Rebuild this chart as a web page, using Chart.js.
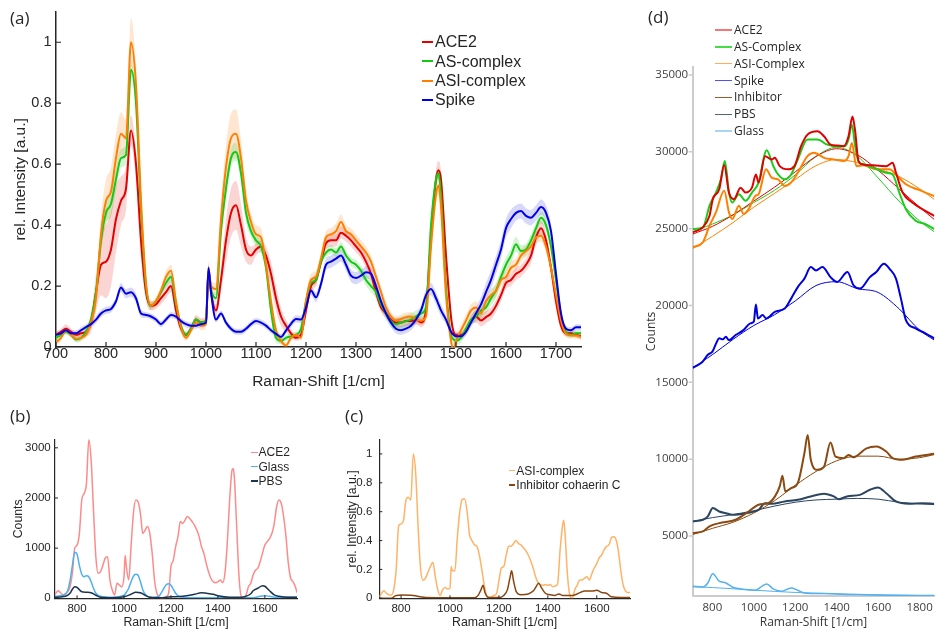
<!DOCTYPE html>
<html><head><meta charset="utf-8">
<script src="https://cdn.jsdelivr.net/npm/chart.js@4.4.1/dist/chart.umd.min.js"></script>
<style>
html,body{margin:0;padding:0;background:#fff;}
body{width:939px;height:632px;position:relative;overflow:hidden;}
canvas{position:absolute;}
.lab{position:absolute;font-family:'Open Sans',sans-serif;font-size:17px;color:#262626;line-height:20px;}
.lg{position:absolute;white-space:nowrap;color:#262626;}
.lgl{position:absolute;}
</style></head><body>
<canvas id="ca" width="600" height="400" style="left:0;top:0"></canvas>
<canvas id="cb" width="320" height="227" style="left:0;top:405px"></canvas>
<canvas id="cc" width="320" height="227" style="left:320px;top:405px"></canvas>
<canvas id="cd" width="299" height="632" style="left:640px;top:0"></canvas>
<div class="lab" style="left:10px;top:8px">(a)</div>
<div class="lab" style="left:10px;top:406px">(b)</div>
<div class="lab" style="left:345px;top:406px">(c)</div>
<div class="lab" style="left:648px;top:7px">(d)</div>
<script>
// ---------- Panel (a): mean spectra ----------
const xA = [700,710,720,730,740,750,760,770,780,790,
800,810,820,830,840,850,860,870,880,890,
900,910,920,930,940,950,960,970,980,990,
1000,1005,1010,1020,1030,1040,1050,1060,1070,1080,
1090,1100,1110,1120,1130,1140,1150,1160,1170,1180,
1190,1200,1210,1220,1230,1240,1250,1260,1270,1280,
1290,1300,1310,1320,1330,1340,1350,1360,1370,1380,
1390,1400,1410,1420,1430,1440,1450,1460,1465,1470,
1480,1490,1495,1500,1510,1520,1530,1540,1550,1560,
1570,1580,1590,1600,1610,1620,1630,1640,1650,1660,
1670,1680,1690,1700,1710,1720,1730,1740,1750];
const ace2A = [0.04,0.05,0.06,0.05,0.04,0.045,0.05,0.08,0.18,0.27,
0.28,0.32,0.42,0.48,0.52,0.71,0.60,0.35,0.18,0.135,
0.14,0.16,0.18,0.20,0.12,0.06,0.04,0.06,0.09,0.08,
0.085,0.25,0.18,0.12,0.22,0.35,0.44,0.465,0.40,0.32,
0.30,0.32,0.33,0.30,0.24,0.16,0.10,0.07,0.045,0.03,
0.04,0.12,0.20,0.22,0.28,0.34,0.35,0.35,0.375,0.365,
0.35,0.33,0.31,0.28,0.24,0.18,0.13,0.11,0.09,0.08,
0.08,0.085,0.085,0.09,0.08,0.12,0.36,0.55,0.58,0.55,
0.30,0.10,0.05,0.04,0.04,0.054,0.087,0.10,0.087,0.098,
0.11,0.135,0.17,0.21,0.22,0.24,0.25,0.27,0.30,0.36,
0.39,0.35,0.26,0.15,0.07,0.045,0.045,0.04,0.035];
const asA = [0.03,0.04,0.05,0.04,0.025,0.03,0.05,0.09,0.18,0.35,
0.44,0.47,0.55,0.62,0.63,0.91,0.80,0.45,0.20,0.135,
0.15,0.18,0.21,0.23,0.14,0.07,0.04,0.06,0.09,0.08,
0.085,0.25,0.19,0.16,0.38,0.52,0.62,0.64,0.57,0.44,
0.38,0.35,0.33,0.26,0.12,0.03,0.02,0.03,0.035,0.04,
0.06,0.15,0.21,0.22,0.28,0.31,0.32,0.31,0.33,0.30,
0.28,0.27,0.25,0.22,0.20,0.18,0.14,0.11,0.085,0.075,
0.08,0.085,0.09,0.10,0.11,0.13,0.40,0.55,0.57,0.50,
0.20,0.04,0.025,0.02,0.03,0.06,0.09,0.10,0.12,0.13,
0.16,0.185,0.23,0.27,0.30,0.337,0.315,0.32,0.35,0.39,
0.424,0.40,0.33,0.22,0.10,0.05,0.04,0.045,0.045];
const asiA = [0.015,0.03,0.055,0.04,0.027,0.03,0.04,0.08,0.16,0.37,
0.48,0.51,0.62,0.70,0.685,1.0,0.86,0.48,0.21,0.136,
0.15,0.185,0.23,0.25,0.15,0.065,0.03,0.054,0.08,0.07,
0.075,0.26,0.20,0.19,0.42,0.59,0.685,0.70,0.62,0.48,
0.41,0.37,0.36,0.27,0.15,0.054,0.02,0.005,0.03,0.04,
0.03,0.15,0.22,0.23,0.29,0.36,0.37,0.38,0.41,0.38,
0.37,0.35,0.33,0.31,0.28,0.23,0.18,0.13,0.10,0.087,
0.092,0.098,0.10,0.09,0.087,0.10,0.33,0.50,0.53,0.46,
0.17,0.02,-0.01,0.02,0.054,0.087,0.12,0.13,0.11,0.15,
0.17,0.185,0.22,0.23,0.26,0.27,0.30,0.315,0.33,0.36,
0.365,0.33,0.26,0.17,0.087,0.043,0.038,0.038,0.033];
const spikeA = [0.04,0.045,0.055,0.045,0.045,0.055,0.065,0.075,0.09,0.11,
0.12,0.125,0.15,0.195,0.175,0.18,0.16,0.11,0.105,0.10,
0.09,0.075,0.09,0.105,0.10,0.085,0.075,0.07,0.07,0.075,
0.08,0.26,0.18,0.09,0.11,0.08,0.06,0.05,0.05,0.06,
0.075,0.085,0.08,0.07,0.055,0.043,0.033,0.054,0.076,0.092,
0.09,0.13,0.185,0.163,0.207,0.27,0.28,0.29,0.30,0.27,
0.234,0.226,0.234,0.245,0.24,0.20,0.15,0.11,0.08,0.06,
0.055,0.06,0.07,0.09,0.12,0.17,0.19,0.16,0.14,0.12,
0.09,0.05,0.04,0.035,0.035,0.05,0.08,0.11,0.14,0.18,
0.22,0.27,0.32,0.39,0.42,0.44,0.446,0.43,0.424,0.44,
0.459,0.44,0.38,0.24,0.11,0.06,0.055,0.065,0.065];
const sdAce2A = [0.01,0.01,0.015,0.01,0.01,0.01,0.015,0.03,0.06,0.1,
0.12,0.12,0.11,0.08,0.07,0.05,0.05,0.06,0.03,0.015,
0.015,0.02,0.02,0.02,0.02,0.015,0.01,0.01,0.015,0.015,
0.015,0.02,0.02,0.02,0.04,0.07,0.08,0.08,0.07,0.04,
0.03,0.02,0.02,0.03,0.04,0.04,0.03,0.02,0.015,0.01,
0.01,0.02,0.02,0.02,0.02,0.02,0.02,0.02,0.02,0.02,
0.02,0.02,0.02,0.02,0.02,0.02,0.015,0.015,0.015,0.015,
0.015,0.015,0.015,0.015,0.015,0.02,0.03,0.03,0.03,0.03,
0.03,0.02,0.015,0.01,0.01,0.015,0.015,0.02,0.02,0.02,
0.02,0.02,0.02,0.02,0.02,0.02,0.02,0.02,0.025,0.025,
0.025,0.025,0.02,0.02,0.015,0.01,0.01,0.01,0.01];
const sdAsA = [0.01,0.01,0.01,0.01,0.01,0.01,0.01,0.02,0.03,0.04,
0.04,0.04,0.04,0.03,0.03,0.02,0.03,0.03,0.02,0.01,
0.01,0.01,0.015,0.015,0.015,0.01,0.01,0.01,0.01,0.01,
0.01,0.015,0.015,0.015,0.03,0.03,0.03,0.03,0.03,0.03,
0.02,0.02,0.02,0.02,0.02,0.015,0.01,0.01,0.01,0.01,
0.01,0.015,0.015,0.015,0.015,0.015,0.015,0.015,0.015,0.015,
0.015,0.015,0.015,0.02,0.02,0.02,0.02,0.02,0.02,0.02,
0.02,0.02,0.02,0.02,0.02,0.02,0.02,0.02,0.02,0.02,
0.02,0.015,0.015,0.015,0.015,0.015,0.015,0.02,0.02,0.02,
0.025,0.025,0.025,0.025,0.025,0.025,0.02,0.02,0.02,0.02,
0.02,0.02,0.02,0.02,0.015,0.01,0.01,0.01,0.01];
const sdAsiA = [0.01,0.01,0.01,0.01,0.01,0.01,0.01,0.02,0.04,0.06,
0.07,0.08,0.08,0.07,0.06,0.08,0.06,0.04,0.02,0.015,
0.015,0.015,0.02,0.02,0.015,0.015,0.01,0.01,0.01,0.015,
0.015,0.02,0.02,0.02,0.05,0.07,0.08,0.08,0.06,0.04,
0.03,0.03,0.03,0.025,0.02,0.02,0.01,0.01,0.01,0.01,
0.01,0.02,0.02,0.02,0.02,0.02,0.02,0.025,0.025,0.02,
0.02,0.02,0.02,0.02,0.02,0.02,0.02,0.02,0.015,0.015,
0.015,0.015,0.015,0.015,0.015,0.02,0.03,0.03,0.03,0.03,
0.02,0.015,0.015,0.015,0.02,0.02,0.02,0.02,0.02,0.02,
0.02,0.02,0.02,0.02,0.02,0.02,0.02,0.02,0.02,0.02,
0.02,0.02,0.02,0.015,0.015,0.01,0.01,0.01,0.01];
const sdSpikeA = [0.01,0.01,0.01,0.01,0.01,0.01,0.01,0.012,0.012,0.012,
0.012,0.012,0.012,0.015,0.015,0.015,0.015,0.012,0.01,0.01,
0.01,0.01,0.01,0.01,0.01,0.01,0.01,0.01,0.01,0.01,
0.01,0.01,0.01,0.01,0.01,0.01,0.01,0.01,0.01,0.01,
0.01,0.01,0.01,0.01,0.01,0.01,0.01,0.01,0.012,0.012,
0.012,0.015,0.015,0.015,0.015,0.02,0.02,0.02,0.02,0.02,
0.02,0.02,0.02,0.02,0.02,0.015,0.015,0.015,0.015,0.015,
0.015,0.015,0.015,0.015,0.015,0.02,0.02,0.02,0.02,0.02,
0.015,0.01,0.01,0.01,0.01,0.012,0.015,0.02,0.025,0.03,
0.03,0.03,0.03,0.03,0.03,0.025,0.025,0.025,0.025,0.025,
0.025,0.025,0.025,0.02,0.015,0.01,0.01,0.01,0.01];
const legendA = ['ACE2','AS-complex','ASI-complex','Spike'];
const xTicksA = [700,800,900,1000,1100,1200,1300,1400,1500,1600,1700];
const yTicksA = [0,0.2,0.4,0.6,0.8,1];

// ---------- Panel (b): raw counts ----------
const bAce2X = [706,720,740,760,770,780,790,800,810,820,830,840,850,860,870,880,890,900,910,920,930,940,950,960,970,980,990,1000,1005,1010,1020,1030,1040,1050,1060,1070,1080,1090,1100,1110,1120,1130,1140,1150,1160,1170,1180,1190,1200,1210,1220,1230,1240,1250,1260,1270,1280,1290,1300,1310,1320,1330,1340,1350,1360,1370,1380,1390,1400,1410,1420,1430,1440,1450,1460,1465,1470,1480,1490,1500,1510,1520,1530,1540,1550,1560,1570,1580,1590,1600,1610,1620,1630,1640,1650,1660,1670,1680,1690,1700,1710,1720,1730,1737];
const bAce2Y = [80,150,66,130,230,500,1000,1060,1300,1960,2090,2290,3160,2750,1760,830,500,530,660,800,830,365,166,66,300,265,230,430,860,630,365,1030,1690,1960,1925,1690,1290,1360,1430,1290,900,365,100,33,0,10,30,100,630,760,1030,1230,1530,1490,1560,1630,1590,1530,1460,1360,1230,1030,900,700,530,400,330,310,330,365,310,500,1100,1960,2550,2590,2420,1430,430,33,20,66,230,300,465,560,600,730,900,1060,1130,1190,1290,1490,1820,1960,1890,1630,1230,700,400,330,230,110];
const bGlassX = [706,740,760,770,780,790,800,810,820,830,840,850,860,870,880,890,900,950,1000,1010,1020,1030,1040,1050,1060,1070,1080,1090,1100,1110,1120,1150,1160,1170,1180,1190,1200,1210,1220,1230,1250,1300,1400,1500,1550,1580,1600,1620,1650,1700,1737];
const bGlassY = [40,60,150,350,650,920,880,650,480,430,450,430,330,200,100,60,40,20,60,120,200,330,440,480,460,330,170,80,40,20,10,50,120,200,270,290,260,180,100,50,20,10,10,10,10,40,50,40,20,20,20];
const bPbsX = [706,750,770,780,790,800,810,820,840,860,880,900,950,1000,1030,1050,1070,1090,1110,1150,1200,1250,1300,1330,1350,1380,1400,1450,1500,1520,1540,1550,1570,1590,1600,1620,1640,1660,1700,1737];
const bPbsY = [20,40,100,180,230,220,170,130,120,110,60,20,10,30,80,120,110,60,20,10,30,40,80,110,100,80,50,20,20,40,90,150,200,250,240,150,70,40,20,20];
const legendB = ['ACE2','Glass','PBS'];
const xTicksB = [800,1000,1200,1400,1600];
const yTicksB = [0,1000,2000,3000];

// ---------- Panel (c): ASI-complex vs inhibitor ----------
const cAsiX = [712,720,730,740,750,760,770,780,790,
800,810,820,830,840,850,860,870,880,890,
900,910,920,930,940,950,960,970,980,990,
1000,1005,1010,1020,1030,1040,1050,1060,1070,1080,
1090,1100,1110,1120,1130,1140,1150,1160,1170,1180,
1190,1200,1210,1220,1230,1240,1250,1260,1270,1280,
1290,1300,1310,1320,1330,1340,1350,1360,1370,1380,
1390,1400,1410,1420,1430,1440,1450,1460,1465,1470,
1480,1490,1500,1510,1520,1530,1540,1550,1560,
1570,1580,1590,1600,1610,1620,1630,1640,1650,1660,
1670,1680,1690,1700,1710,1720,1730,1736];
const cAsiY = [0.01,0.035,0.053,0.035,0.025,0.023,0.06,0.2,0.5,
0.515,0.54,0.68,0.70,0.68,1.0,0.86,0.48,0.2,0.125,
0.14,0.18,0.22,0.25,0.15,0.06,0.02,0.06,0.075,0.065,
0.07,0.22,0.19,0.19,0.42,0.6,0.685,0.69,0.6,0.44,
0.4,0.37,0.36,0.3,0.2,0.09,0.02,0.005,0.01,0.02,
0.03,0.12,0.21,0.22,0.3,0.36,0.36,0.38,0.4,0.38,
0.37,0.35,0.33,0.3,0.26,0.21,0.15,0.11,0.095,0.09,
0.095,0.09,0.095,0.08,0.085,0.1,0.33,0.5,0.54,0.46,
0.17,0.02,0.0,0.058,0.09,0.127,0.127,0.139,0.15,
0.127,0.17,0.21,0.24,0.28,0.30,0.335,0.36,0.37,0.42,
0.427,0.40,0.31,0.17,0.08,0.046,0.04,0.04];
const cInhX = [710,760,780,800,850,880,900,1000,1100,1115,1127,1135,1143,1155,1200,1220,1235,1245,1252,1260,1270,1290,1320,1340,1352,1362,1375,1390,1410,1430,1445,1460,1500,1520,1550,1580,1600,1620,1640,1660,1700,1736];
const cInhY = [0,0,0.02,0.022,0.02,0.01,0.005,0.003,0.003,0.02,0.06,0.09,0.04,0.008,0.005,0.02,0.06,0.14,0.19,0.12,0.05,0.025,0.03,0.05,0.08,0.105,0.07,0.035,0.025,0.02,0.03,0.02,0.02,0.03,0.05,0.05,0.055,0.04,0.035,0.01,0.005,0.005];
const legendC = ['ASI-complex','Inhibitor cohaerin C'];
const xTicksC = [800,1000,1200,1400,1600];
const yTicksC = [0,0.2,0.4,0.6,0.8,1];

// ---------- Panel (d): raw spectra with baselines ----------
const dAce2X = [705,754,786,802,833,857,880,904,936,960,991,1010,1023,1054,1086,1101,1125,1165,1196,1228,1259,1307,1339,1370,1402,1434,1457,1476,1489,1505,1528,1576,1639,1670,1686,1718,1765,1813,1871];
const dAce2Y = [24760,25090,25840,26920,27570,29150,27350,26920,27670,27350,27670,28530,28000,29720,29500,29610,29070,28860,29070,30370,31120,31340,31010,30470,30410,30370,31010,32300,31340,29400,29180,29120,29070,29290,28640,27350,26700,26270,25840];
const dAsX = [705,754,786,817,841,860,880,896,928,960,991,1023,1062,1094,1117,1149,1180,1212,1259,1307,1354,1402,1441,1457,1473,1489,1505,1528,1576,1639,1670,1702,1734,1781,1828,1871];
const dAsY = [24980,25090,26490,27350,28210,29400,27350,26700,27240,26810,27350,28000,30110,29070,28530,28210,28530,29500,30800,30800,30470,30370,30370,30800,31770,30370,29400,29180,28970,28640,28530,27350,26270,25520,25300,24980];
const dAsiX = [705,754,786,817,857,880,896,928,951,975,1007,1023,1059,1086,1117,1149,1180,1212,1259,1291,1339,1386,1434,1457,1473,1495,1528,1591,1655,1686,1734,1797,1828,1871];
const dAsiY = [23790,24120,25190,26060,27460,26060,25630,26490,25950,26270,27130,27240,28860,28320,28210,27780,28000,28640,29720,29940,29610,29500,29400,29720,30580,29070,29120,28860,28860,28530,27890,27520,27350,27130];
const dSpikeX = [705,720,750,778,800,820,833,850,865,880,912,950,983,1000,1010,1020,1042,1060,1101,1149,1180,1212,1244,1275,1300,1331,1370,1402,1452,1481,1512,1560,1591,1628,1655,1686,1710,1734,1781,1828,1871];
const dSpikeY = [15950,16050,16300,16800,17000,17600,17870,17800,17970,17750,18080,18400,18840,18950,20060,19150,19380,19160,19590,19800,20450,21200,21750,22500,22280,22500,21850,21530,22180,21320,21100,21850,22180,22720,22390,21750,20450,19050,18510,18190,17860];
const dInhX = [705,754,786,833,912,975,1023,1070,1102,1125,1138,1152,1180,1212,1244,1260,1275,1307,1339,1370,1394,1434,1457,1481,1544,1591,1639,1670,1718,1781,1871];
const dInhY = [5200,5300,5630,5840,6060,6600,7040,7140,7580,8230,8920,7900,8120,8440,10390,11580,9960,9310,9520,11080,10170,10070,10280,10130,10710,10820,10500,10070,9960,10170,10350];
const dPbsX = [705,754,778,802,833,865,896,960,1023,1054,1086,1149,1212,1275,1339,1386,1410,1449,1512,1560,1599,1639,1686,1749,1813,1871];
const dPbsY = [5950,6060,6280,6820,6600,6490,6390,6490,6710,7140,7100,7250,7360,7580,7750,7580,7400,7580,7680,8010,8160,7790,7250,7100,7140,7100];
const dGlassX = [705,754,778,802,833,865,896,960,1007,1039,1062,1094,1133,1180,1212,1244,1339,1497,1655,1871];
const dGlassY = [1730,1690,1950,2550,2060,1950,1690,1520,1470,1730,1880,1560,1410,1620,1470,1300,1260,1190,1150,1125];
const dBaseX = [705,800,900,1000,1100,1200,1300,1400,1500,1600,1700,1800,1871];
const dAce2Base = [24650,25150,25900,26800,27700,28700,29700,30200,29800,28800,27600,26400,25600];
const dAsBase = [24800,25300,25900,26700,27500,28500,29700,30300,29700,28300,26800,25500,24800];
const dAsiBase = [23700,24500,25400,26400,27300,28200,29100,29500,29300,28900,28400,27600,26900];
const dSpikeBase = [15950,16800,17800,18700,19400,20300,21300,21550,21100,20850,19800,18400,17750];
const dInhBase = [5100,5500,5900,6500,7300,8300,9200,9900,10200,10200,10000,10100,10300];
const dPbsBase = [5950,6200,6400,6650,6950,7200,7350,7400,7450,7400,7200,7100,7050];
const dGlassBase = [1700,1650,1570,1480,1400,1330,1280,1240,1200,1170,1150,1130,1120];
const legendD = ['ACE2','AS-Complex','ASI-Complex','Spike','Inhibitor','PBS','Glass'];
const xTicksD = [800,1000,1200,1400,1600,1800];
const yTicksD = [5000,10000,15000,20000,25000,30000,35000];

// ---------- helpers ----------
const FA = "'Liberation Sans', Arial, Helvetica, sans-serif";
const FD = "'Open Sans', 'DejaVu Sans', sans-serif";
const pts = (xs, ys) => xs.map((x, i) => ({x: x, y: ys[i]}));
const line = (label, xs, ys, color, w, order) => ({label, data: pts(xs, ys), borderColor: color, backgroundColor: color, borderWidth: w, pointRadius: 0, fill: false, order: order});
function band(label, mean, sd, color, order) {
  return [
    {label: label + ' +sd', data: pts(xA, mean.map((m, i) => m + sd[i])), borderColor: 'rgba(0,0,0,0)', borderWidth: 0, pointRadius: 0, fill: '+1', backgroundColor: color, order: order},
    {label: label + ' -sd', data: pts(xA, mean.map((m, i) => m - sd[i])), borderColor: 'rgba(0,0,0,0)', borderWidth: 0, pointRadius: 0, fill: false, order: order}
  ];
}
const tickMarks = {
  id: 'tickMarks',
  afterDatasetsDraw(chart) {
    const o = chart.config.options.plugins.tickMarks;
    if (!o) return;
    const ctx = chart.ctx, ca = chart.chartArea, xs = chart.scales.x, ys = chart.scales.y;
    ctx.save();
    ctx.strokeStyle = o.color; ctx.lineWidth = o.width;
    ctx.beginPath();
    if (o.x) xs.ticks.forEach(t => { const p = xs.getPixelForValue(t.value); ctx.moveTo(p, ca.bottom); ctx.lineTo(p, ca.bottom + o.x); });
    if (o.y) ys.ticks.forEach(t => { const p = ys.getPixelForValue(t.value); ctx.moveTo(ca.left, p); ctx.lineTo(ca.left + o.y, p); });
    ctx.stroke();
    ctx.restore();
  }
};
function axis(o, horiz) {
  return {
    type: 'linear', position: horiz ? 'bottom' : 'left', min: o.min, max: o.max,
    afterBuildTicks: s => { s.ticks = o.ticks.map(v => ({value: v})); },
    afterFit: s => { if (horiz) s.height = o.size; else s.width = o.size; },
    grid: {display: false, drawTicks: false},
    border: {display: true, color: o.axisColor, width: o.axisWidth},
    ticks: {color: o.tickColor, font: {family: o.font, size: o.tickSize, lineHeight: 1}, padding: o.tickPad, autoSkip: false, maxRotation: 0, minRotation: 0, callback: v => String(v)},
    title: {display: true, text: o.title, color: o.titleColor, font: {family: o.font, size: o.titleSize, lineHeight: 1}, padding: horiz ? {top: 0, bottom: o.titlePad} : {top: o.titlePad, bottom: 0}}
  };
}
function makeChart(id, datasets, o) {
  return new Chart(document.getElementById(id), {
    type: 'line',
    data: {datasets: datasets},
    options: {
      responsive: false, animation: false, devicePixelRatio: 1, events: [],
      layout: {padding: o.pad},
      plugins: {legend: {display: false}, tooltip: {enabled: false}, tickMarks: o.marks},
      elements: {point: {radius: 0}, line: {cubicInterpolationMode: 'monotone'}},
      scales: {x: axis(o.x, true), y: axis(o.y, false)}
    },
    plugins: [tickMarks]
  });
}
function legend(labels, colors, o) {
  labels.forEach((lab, i) => {
    const cy = o.y0 + i * o.dy;
    const l = document.createElement('div');
    l.className = 'lgl';
    l.style.cssText = 'left:' + o.lx1 + 'px;top:' + (cy - o.lw / 2) + 'px;width:' + (o.lx2 - o.lx1) + 'px;height:' + o.lw + 'px;background:' + colors[i];
    document.body.appendChild(l);
    const t = document.createElement('div');
    t.className = 'lg';
    const lh = Math.round(o.fs * 1.2);
    t.style.cssText = 'left:' + o.tx + 'px;top:' + (cy - lh / 2) + 'px;font-size:' + o.fs + 'px;line-height:' + lh + 'px;font-family:' + o.font;
    t.textContent = lab;
    document.body.appendChild(t);
  });
}

// ---------- panel (a) ----------
const colA = ['#e60000', '#14c814', '#ff8000', '#0000e6'];
const bandCol = ['rgba(235,60,60,0.22)', 'rgba(40,200,40,0.2)', 'rgba(255,140,40,0.22)', 'rgba(60,60,230,0.2)'];
const AX = {axisColor: '#262626', axisWidth: 1.5, tickColor: '#262626', titleColor: '#262626', font: FA, tickSize: 14.5, titleSize: 15.5};
makeChart('ca', [
  line(legendA[3], xA, spikeA, colA[3], 2, 0),
  line(legendA[2], xA, asiA, colA[2], 2, 1),
  line(legendA[1], xA, asA, colA[1], 2, 2),
  line(legendA[0], xA, ace2A, colA[0], 2, 3),
  ...band(legendA[0], ace2A, sdAce2A, bandCol[0], 10),
  ...band(legendA[1], asA, sdAsA, bandCol[1], 11),
  ...band(legendA[2], asiA, sdAsiA, bandCol[2], 12),
  ...band(legendA[3], spikeA, sdSpikeA, bandCol[3], 13)
], {
  pad: {top: 8.6, right: 19, bottom: 0, left: 0},
  marks: {x: -5, y: 5, color: '#262626', width: 1.2},
  x: Object.assign({}, AX, {min: 700, max: 1750, ticks: xTicksA, size: 53, tickPad: 0, title: 'Raman-Shift [1/cm]', titlePad: 10.7}),
  y: Object.assign({}, AX, {min: 0, max: 1.1, ticks: yTicksA, size: 56, tickPad: 4.5, title: 'rel. Intensity [a.u.]', titlePad: 13.2})
});
legend(legendA, colA, {y0: 41.7, dy: 19.4, lx1: 422, lx2: 433, lw: 2, tx: 435, fs: 16, font: FA});

// ---------- panel (b) ----------
const colB = ['#ff8a8a', '#4fb0f0', '#1b3550'];
const BX = {axisColor: '#262626', axisWidth: 1.2, tickColor: '#262626', titleColor: '#262626', font: FA, tickSize: 11.5, titleSize: 12.3};
makeChart('cb', [
  line(legendB[2], bPbsX, bPbsY, colB[2], 1.5, 0),
  line(legendB[1], bGlassX, bGlassY, colB[1], 1.5, 1),
  line(legendB[0], bAce2X, bAce2Y, colB[0], 1.5, 2)
], {
  pad: {top: 34.3, right: 23, bottom: 0, left: 0},
  marks: {x: -3, y: 3, color: '#262626', width: 1},
  x: Object.assign({}, BX, {min: 706, max: 1737, ticks: xTicksB, size: 33.7, tickPad: 5, title: 'Raman-Shift [1/cm]', titlePad: 2.85}),
  y: Object.assign({}, BX, {min: 0, max: 3170, ticks: yTicksB, size: 55, tickPad: 4.3, title: 'Counts', titlePad: 12.2})
});
legend(legendB, colB, {y0: 452.3, dy: 14.35, lx1: 251, lx2: 257.5, lw: 1.5, tx: 258.5, fs: 12, font: FA});

// ---------- panel (c) ----------
const colC = ['#ffb366', '#8b4510'];
makeChart('cc', [
  line(legendC[1], cInhX, cInhY, colC[1], 1.5, 0),
  line(legendC[0], cAsiX, cAsiY, colC[0], 1.5, 1)
], {
  pad: {top: 34.5, right: 10, bottom: 0, left: 0},
  marks: {x: -3, y: 3, color: '#262626', width: 1},
  x: Object.assign({}, BX, {min: 711, max: 1736, ticks: xTicksC, size: 33.7, tickPad: 5, title: 'Raman-Shift [1/cm]', titlePad: 2.85}),
  y: Object.assign({}, BX, {min: 0, max: 1.1, ticks: yTicksC, size: 59.3, tickPad: 7, title: 'rel. Intensity [a.u.]', titlePad: 26.9})
});
legend(legendC, colC, {y0: 470.7, dy: 14.3, lx1: 509.3, lx2: 515.3, lw: 1.5, tx: 516.3, fs: 12, font: FA});

// ---------- panel (d) ----------
const colD = ['#e00000', '#1ccc1c', '#ff8000', '#0000e0', '#8b4a12', '#2b4560', '#55b0f0'];
const colDLeg = ['#f07878', '#44dd44', '#ffae5e', '#5050ff', '#9a5a2a', '#52657a', '#a8d4f6'];
const DX = {axisColor: '#cccccc', axisWidth: 2, tickColor: '#404040', titleColor: '#333333', font: FD, tickSize: 11.5, titleSize: 12};
makeChart('cd', [
  line(legendD[0], dAce2X, dAce2Y, colD[0], 2, 0),
  line(legendD[1], dAsX, dAsY, colD[1], 2, 1),
  line(legendD[2], dAsiX, dAsiY, colD[2], 2, 2),
  line(legendD[3], dSpikeX, dSpikeY, colD[3], 2, 3),
  line(legendD[4], dInhX, dInhY, colD[4], 2, 4),
  line(legendD[5], dPbsX, dPbsY, colD[5], 2, 5),
  line(legendD[6], dGlassX, dGlassY, colD[6], 1.5, 6),
  line(legendD[0] + ' baseline', dBaseX, dAce2Base, colD[0], 1, 10),
  line(legendD[1] + ' baseline', dBaseX, dAsBase, colD[1], 1, 10),
  line(legendD[2] + ' baseline', dBaseX, dAsiBase, colD[2], 1, 10),
  line(legendD[3] + ' baseline', dBaseX, dSpikeBase, colD[3], 1, 10),
  line(legendD[4] + ' baseline', dBaseX, dInhBase, colD[4], 1, 10),
  line(legendD[5] + ' baseline', dBaseX, dPbsBase, colD[5], 1, 10),
  line(legendD[6] + ' baseline', dBaseX, dGlassBase, colD[6], 1, 10)
], {
  pad: {top: 67, right: 0, bottom: 0, left: 0},
  marks: {y: -4, color: '#cccccc', width: 1.5},
  x: Object.assign({}, DX, {min: 705, max: 1871, ticks: xTicksD, size: 36, tickPad: 6.25, title: 'Raman-Shift [1/cm]', titlePad: 3}),
  y: Object.assign({}, DX, {min: 1100, max: 35520, ticks: yTicksD, size: 52.7, tickPad: 4.5, title: 'Counts', titlePad: 6})
});
legend(legendD, colDLeg, {y0: 30, dy: 16.85, lx1: 715, lx2: 732, lw: 1.5, tx: 734, fs: 12, font: FD});
</script>
</body></html>
